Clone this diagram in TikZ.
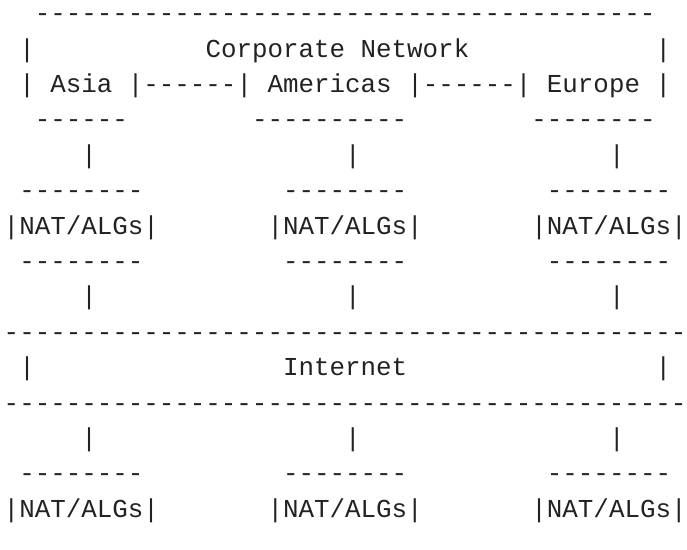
\documentclass[tikz,border=0pt]{standalone}
\usepackage{fontspec}
\setmonofont{Liberation Mono}
\usepackage{tikz}

\definecolor{ink}{HTML}{222222}
\newcommand{\asc}{\fontsize{25.86pt}{30pt}\selectfont\ttfamily}
\newcommand{\dashes}[1]{\foreach\k in {1,...,#1}{-}}

\begin{document}
\begin{tikzpicture}[x=15.52pt, y=-35.4pt,
    txt/.style={anchor=base west, inner sep=0pt, outer sep=0pt, text=ink, font=\asc}]
    \useasboundingbox (-3.74pt,21.7pt) rectangle (683.26pt,-527.3pt);

    % corporate network box
    \node[txt] (corptop) at (2,0) {\dashes{40}};
    \node[txt] (corpl)   at (1,1) {|};
    \node[txt] (corp)    at (13,1) {Corporate Network};
    \node[txt] (corpr)   at (42,1) {|};

    % the three sites
    \node[txt] (asial)    at (1,2)  {|};
    \node[txt] (asia)     at (3,2)  {Asia};
    \node[txt] (link1)    at (8,2)  {|\dashes{6}|};
    \node[txt] (americas) at (17,2) {Americas};
    \node[txt] (link2)    at (26,2) {|\dashes{6}|};
    \node[txt] (europe)   at (35,2) {Europe};
    \node[txt] (europer)  at (42,2) {|};
    \node[txt] (asiabot)     at (2,3)  {\dashes{6}};
    \node[txt] (americasbot) at (16,3) {\dashes{10}};
    \node[txt] (europebot)   at (34,3) {\dashes{8}};

    % NAT/ALGs between sites and internet
    \foreach \c/\n in {0/a,17/b,34/c}{
        \node[txt] (up-\n)     at (\c+5,4) {|};
        \node[txt] (nattop-\n) at (\c+1,5) {\dashes{8}};
        \node[txt] (nat-\n)    at (\c,6)   {|NAT/ALGs|};
        \node[txt] (natbot-\n) at (\c+1,7) {\dashes{8}};
        \node[txt] (dn-\n)     at (\c+5,8) {|};
    }

    % the internet
    \node[txt] (nettop) at (0,9)   {\dashes{44}};
    \node[txt] (netl)   at (1,10)  {|};
    \node[txt] (net)    at (18,10) {Internet};
    \node[txt] (netr)   at (42,10) {|};
    \node[txt] (netbot) at (0,11)  {\dashes{44}};

    % NAT/ALGs below the internet
    \foreach \c/\n in {0/a,17/b,34/c}{
        \node[txt] (lo-\n)       at (\c+5,12) {|};
        \node[txt] (lonattop-\n) at (\c+1,13) {\dashes{8}};
        \node[txt] (lonat-\n)    at (\c,14)   {|NAT/ALGs|};
    }
\end{tikzpicture}
\end{document}
